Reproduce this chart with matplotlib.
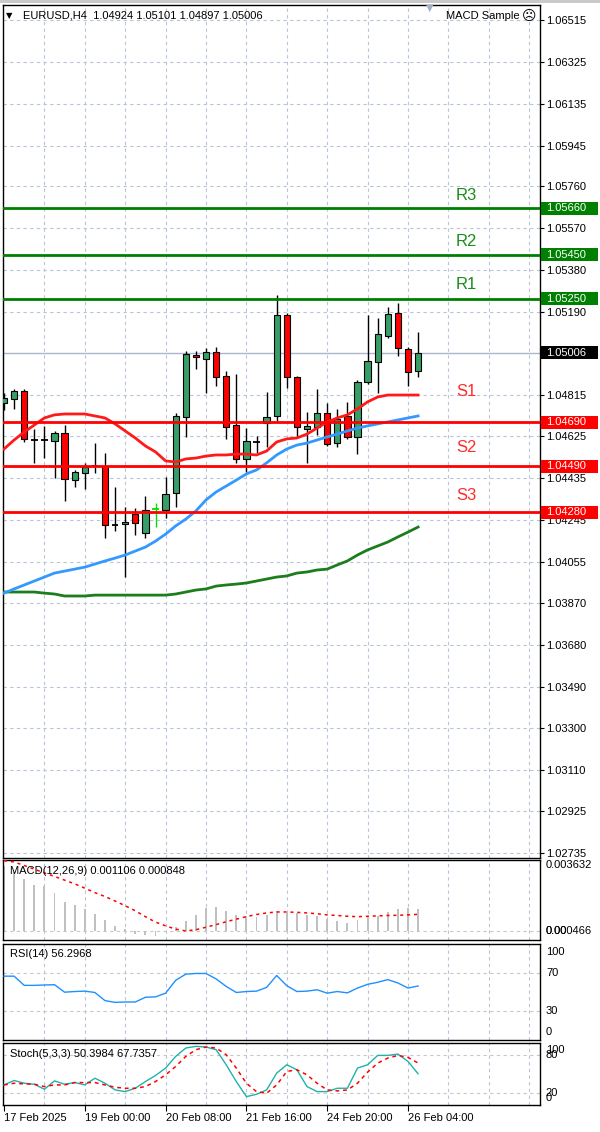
import matplotlib
matplotlib.use("Agg")
import matplotlib.pyplot as plt
from matplotlib.patches import Rectangle
from matplotlib.transforms import blended_transform_factory

plt.rcParams['font.family'] = ['Liberation Sans', 'DejaVu Sans']

# velas EURUSD H4
opens = [1.04777, 1.04795, 1.04831, 1.04609, 1.04608, 1.04604, 1.04641, 1.04428, 1.04460, 1.04491,
         1.04491, 1.04223, 1.04228, 1.04273, 1.04187, 1.04296, 1.04291, 1.04369, 1.04713, 1.04995,
         1.04977, 1.05009, 1.04900, 1.04677, 1.04523, 1.04600, 1.04686, 1.04718, 1.05177, 1.04895,
         1.04659, 1.04668, 1.04731, 1.04595, 1.04718, 1.04623, 1.04872, 1.04963, 1.05081, 1.05186,
         1.05022, 1.04924]
highs = [1.04822, 1.04840, 1.04840, 1.04659, 1.04672, 1.04650, 1.04677, 1.04473, 1.04505, 1.04595,
         1.04550, 1.04396, 1.04305, 1.04300, 1.04355, 1.04323, 1.04441, 1.04731, 1.05013, 1.05013,
         1.05027, 1.05031, 1.04922, 1.04909, 1.04663, 1.04627, 1.04827, 1.05267, 1.05186, 1.04900,
         1.04736, 1.04840, 1.04777, 1.04750, 1.04782, 1.04881, 1.05177, 1.05163, 1.05213, 1.05231,
         1.05031, 1.05101]
lows = [1.04745, 1.04750, 1.04600, 1.04505, 1.04527, 1.04437, 1.04332, 1.04396, 1.04387, 1.04460,
        1.04164, 1.04196, 1.03988, 1.04178, 1.04164, 1.04214, 1.04255, 1.04305, 1.04623, 1.04931,
        1.04822, 1.04854, 1.04613, 1.04505, 1.04464, 1.04550, 1.04577, 1.04695, 1.04845, 1.04618,
        1.04505, 1.04632, 1.04582, 1.04577, 1.04613, 1.04545, 1.04863, 1.04822, 1.05072, 1.04991,
        1.04854, 1.04897]
closes = [1.04800, 1.04831, 1.04613, 1.04609, 1.04609, 1.04641, 1.04432, 1.04464, 1.04487, 1.04487,
          1.04223, 1.04221, 1.04237, 1.04232, 1.04291, 1.04296, 1.04364, 1.04718, 1.05000, 1.04986,
          1.05009, 1.04895, 1.04668, 1.04523, 1.04604, 1.04599, 1.04713, 1.05177, 1.04895, 1.04668,
          1.04672, 1.04731, 1.04591, 1.04704, 1.04623, 1.04872, 1.04968, 1.05090, 1.05181, 1.05027,
          1.04918, 1.05006]

# medias móviles
ma_red = [1.04568, 1.04609, 1.04645, 1.04677, 1.04709, 1.04723, 1.04727, 1.04727, 1.04727, 1.04718,
          1.04709, 1.04682, 1.04650, 1.04618, 1.04582, 1.04555, 1.04514, 1.04509, 1.04523, 1.04527,
          1.04536, 1.04541, 1.04541, 1.04545, 1.04545, 1.04541, 1.04559, 1.04600, 1.04614, 1.04618,
          1.04636, 1.04663, 1.04691, 1.04709, 1.04723, 1.04750, 1.04782, 1.04804, 1.04813, 1.04813,
          1.04813, 1.04813]
ma_blue = [1.03914, 1.03933, 1.03951, 1.03969, 1.03987, 1.04005, 1.04014, 1.04023, 1.04032, 1.04046,
           1.04060, 1.04073, 1.04087, 1.04105, 1.04123, 1.04150, 1.04182, 1.04219, 1.04250, 1.04287,
           1.04337, 1.04373, 1.04400, 1.04427, 1.04455, 1.04473, 1.04505, 1.04541, 1.04568, 1.04586,
           1.04595, 1.04609, 1.04623, 1.04636, 1.04650, 1.04663, 1.04673, 1.04682, 1.04691, 1.04700,
           1.04709, 1.04718]
ma_green = [1.03919, 1.03919, 1.03919, 1.03919, 1.03914, 1.03910, 1.03901, 1.03901, 1.03901, 1.03905,
            1.03905, 1.03905, 1.03905, 1.03905, 1.03905, 1.03905, 1.03905, 1.03910, 1.03919, 1.03928,
            1.03933, 1.03946, 1.03951, 1.03955, 1.03960, 1.03969, 1.03978, 1.03987, 1.03992, 1.04005,
            1.04010, 1.04019, 1.04023, 1.04042, 1.04060, 1.04087, 1.04110, 1.04128, 1.04146, 1.04169,
            1.04191, 1.04214]

# soportes y resistencias
res_names = ["R3", "R2", "R1"]
res_levels = [1.05660, 1.05450, 1.05250]
sup_names = ["S1", "S2", "S3"]
sup_levels = [1.04690, 1.04490, 1.04280]
last_price = 1.05006

price_ticks = [1.06515, 1.06325, 1.06135, 1.05945, 1.05760, 1.05570, 1.05380, 1.05190, 1.04815,
               1.04625, 1.04435, 1.04245, 1.04055, 1.03870, 1.03680, 1.03490, 1.03300, 1.03110,
               1.02925, 1.02735]

# indicadores
macd_hist = [0.00331, 0.00303, 0.00266, 0.00237, 0.00232, 0.00194, 0.00150, 0.00131, 0.00110, 0.00088,
             0.00054, 0.00026, 0.00009, -0.00015, -0.00021, -0.00028, -0.00002, 0.00022, 0.00050, 0.00079,
             0.00116, 0.00122, 0.00103, 0.00084, 0.00075, 0.00069, 0.00082, 0.00103, 0.00094, 0.00092,
             0.00084, 0.00075, 0.00060, 0.00050, 0.00041, 0.00056, 0.00069, 0.00075, 0.00097, 0.00112,
             0.00116, 0.00110]
macd_signal = [0.00360, 0.00353, 0.00335, 0.00316, 0.00297, 0.00279, 0.00260, 0.00241, 0.00219, 0.00196,
               0.00176, 0.00153, 0.00129, 0.00103, 0.00073, 0.00045, 0.00026, 0.00009, 0.00000, 0.00006,
               0.00019, 0.00032, 0.00047, 0.00060, 0.00073, 0.00084, 0.00092, 0.00097, 0.00097, 0.00095,
               0.00092, 0.00088, 0.00082, 0.00079, 0.00075, 0.00073, 0.00075, 0.00077, 0.00079, 0.00080,
               0.00082, 0.00085]
rsi = [66.5, 66.5, 56.9, 56.9, 57.3, 57.6, 49.8, 50.5, 50.9, 49.5,
       41.0, 39.2, 39.6, 39.6, 44.5, 44.9, 48.8, 62.2, 68.6, 69.3,
       69.3, 63.6, 55.8, 49.5, 50.5, 50.9, 54.8, 67.2, 56.5, 50.5,
       50.9, 52.3, 48.8, 50.5, 49.1, 54.1, 58.0, 60.1, 62.9, 59.4,
       54.1, 56.3]
stoch_k = [32.4, 39.5, 35.1, 33.5, 25.4, 38.9, 33.5, 36.2, 32.4, 43.2,
           35.1, 24.3, 21.6, 27.0, 37.8, 47.6, 59.5, 78.4, 91.9, 94.6,
           93.5, 89.2, 64.9, 37.8, 13.5, 17.3, 24.3, 51.4, 64.9, 56.8,
           29.7, 21.6, 21.6, 27.0, 27.0, 59.5, 64.9, 80.0, 80.0, 82.2,
           70.3, 50.4]
stoch_d = [32.4, 35.1, 34.1, 33.5, 29.7, 32.4, 32.4, 36.2, 36.2, 36.2,
           32.4, 28.6, 27.0, 27.0, 29.7, 37.8, 48.6, 62.2, 78.4, 89.2,
           93.5, 91.9, 81.1, 59.5, 35.1, 21.6, 18.9, 32.4, 54.1, 56.8,
           48.6, 35.1, 24.3, 22.7, 24.3, 35.1, 53.0, 67.6, 75.7, 80.0,
           76.8, 67.7]

date_ticks = [0, 8, 16, 24, 32, 40]
date_labels = ["17 Feb 2025", "19 Feb 00:00", "20 Feb 08:00", "21 Feb 16:00", "24 Feb 20:00", "26 Feb 04:00"]

W, H = 600, 1132
fig = plt.figure(figsize=(W / 100, H / 100), dpi=100)
fig.patch.set_facecolor("white")


def px_axes(x0, y0, x1, y1):
    return fig.add_axes([x0 / W, 1 - y1 / H, (x1 - x0) / W, (y1 - y0) / H])


ax = px_axes(3, 5, 540, 858)
ax_macd = px_axes(3, 860, 540, 940)
ax_rsi = px_axes(3, 944, 540, 1040)
ax_sto = px_axes(3, 1043, 540, 1105)

xs = list(range(len(closes)))
xlim = (-0.1, 53.07)
grid_col = "#b7c4da"
for a in (ax, ax_macd, ax_rsi, ax_sto):
    a.set_xlim(*xlim)
    for s in a.spines.values():
        s.set_color("black")
        s.set_linewidth(1)
    for gx in range(4, 54, 4):
        a.axvline(gx, color=grid_col, lw=0.8, ls=(0, (3, 3)), zorder=0)
    a.tick_params(axis="x", bottom=False, labelbottom=False)
    a.tick_params(axis="y", left=False, labelleft=False, right=False, labelright=False)

# ---- panel principal ----
ymin, ymax = 1.02712, 1.06583
ax.set_ylim(ymin, ymax)
px_per_price = 853 / (ymax - ymin)
ax.yaxis.tick_right()
ax.set_yticks(price_ticks)
ax.set_yticklabels([f"{t:.5f}" for t in price_ticks])
ax.tick_params(axis="y", right=True, labelright=True, length=3, width=0.8, pad=1.5, labelsize=8)
for t in price_ticks:
    ax.axhline(t, color=grid_col, lw=0.8, ls=(0, (3, 3)), zorder=0)
ax.axhline(last_price, color="#aab6cc", lw=1, zorder=1)

# velas
up_col, dn_col = "#379e68", "#ff0000"
for i in xs:
    o, h, l, c = opens[i], highs[i], lows[i], closes[i]
    if abs(c - o) < 0.00005:
        col = "#00e000" if i == 15 else "black"
        ax.vlines(i, l, h, color=col, lw=1, zorder=3)
        ax.hlines(o, i - 0.32, i + 0.32, color=col, lw=1.3, zorder=3)
        continue
    ax.vlines(i, l, h, color="black", lw=1, zorder=2)
    ax.bar(i, abs(c - o), bottom=min(o, c), width=0.62,
           color=up_col if c > o else dn_col, edgecolor="black", lw=0.8, zorder=3)

ax.plot(xs, ma_green, color="#1b7d1b", lw=2, zorder=4)
ax.plot(xs, ma_blue, color="#3399ff", lw=2, zorder=4)
ax.plot(xs, ma_red, color="#ff1a1a", lw=2, zorder=4)

trans = blended_transform_factory(ax.transAxes, ax.transData)
box_h = 13 / px_per_price
res_off = [13, 13, 14]
sup_off = [31, 19, 17]
for names, levels, offs, col, tcol in ((res_names, res_levels, res_off, "#008000", "#1a8c1a"),
                                      (sup_names, sup_levels, sup_off, "#ff0000", "#ff2b2b")):
    for name, lvl, off in zip(names, levels, offs):
        ax.axhline(lvl, color=col, lw=2, zorder=5)
        ax.annotate(name, (45.8, lvl), xytext=(0, off * 0.72), textcoords="offset points",
                    ha="center", va="center", fontsize=12, color=tcol, zorder=6)
        ax.add_patch(Rectangle((1.002, lvl - box_h / 2), 0.106, box_h, transform=trans,
                               facecolor=col, edgecolor="none", clip_on=False, zorder=6))
        ax.text(1.0112, lvl, f"{lvl:.5f}", transform=trans, color="white", fontsize=8,
                va="center", ha="left", clip_on=False, zorder=7)

ax.add_patch(Rectangle((1.002, last_price - box_h / 2), 0.106, box_h, transform=trans,
                       facecolor="black", edgecolor="none", clip_on=False, zorder=6))
ax.text(1.0112, last_price, f"{last_price:.5f}", transform=trans, color="white", fontsize=8,
        va="center", ha="left", clip_on=False, zorder=7)

ax.text(0.006, 0.988, "▼", transform=ax.transAxes, fontsize=6, va="center", ha="left",
        family=["DejaVu Sans"])
ax.text(0.038, 0.988, f"EURUSD,H4  {opens[-1]:.5f} {highs[-1]:.5f} {lows[-1]:.5f} {closes[-1]:.5f}",
        transform=ax.transAxes, fontsize=8, va="center", ha="left")
ax.text(0.9626, 0.987, "MACD Sample", transform=ax.transAxes, fontsize=8, va="center", ha="right")
ax.text(0.9935, 0.987, "☹", transform=ax.transAxes, fontsize=10, va="center", ha="right",
        family=["DejaVu Sans"])
fig.text(430 / W, 1 - 8 / H, "▼", fontsize=7, color="#9fb0c8", ha="center", va="center",
         family=["DejaVu Sans"])

# ---- MACD ----
ax_macd.set_ylim(-0.000466, 0.003632)
ax_macd.axhline(0, color="#c8c8c8", lw=0.8, ls=(0, (3, 3)), zorder=0)
ax_macd.bar(xs, macd_hist, width=0.18, color="#c0c0c0", zorder=2)
ax_macd.plot(xs, macd_signal, color="#ff0000", lw=1.1, ls=(0, (2, 2.5)), zorder=3)
ax_macd.text(0.013, 0.86, "MACD(12,26,9) 0.001106 0.000848",
             transform=ax_macd.transAxes, fontsize=8, va="center", ha="left")
tm = blended_transform_factory(ax_macd.transAxes, ax_macd.transData)
ax_macd.text(1.011, 0.003632, "0.003632", transform=tm, fontsize=8, va="top", ha="left", clip_on=False)
ax_macd.text(1.011, 0.0, "0.00", transform=tm, fontsize=8, va="center", ha="left", clip_on=False)
ax_macd.text(1.011, 0.0, "0.000466", transform=tm, fontsize=8, va="center", ha="left", clip_on=False)

# ---- RSI ----
ax_rsi.set_ylim(0, 100)
for lv in (70, 30):
    ax_rsi.axhline(lv, color="#c8c8c8", lw=0.8, ls=(0, (3, 3)), zorder=0)
ax_rsi.plot(xs, rsi, color="#1e90ff", lw=1, zorder=3)
ax_rsi.text(0.013, 0.9, "RSI(14) 56.2968", transform=ax_rsi.transAxes, fontsize=8, va="center", ha="left")
tr = blended_transform_factory(ax_rsi.transAxes, ax_rsi.transData)
ax_rsi.text(1.011, 97, "100", transform=tr, fontsize=8, va="top", ha="left", clip_on=False)
ax_rsi.text(1.011, 70, "70", transform=tr, fontsize=8, va="center", ha="left", clip_on=False)
ax_rsi.text(1.011, 30, "30", transform=tr, fontsize=8, va="center", ha="left", clip_on=False)
ax_rsi.text(1.011, 3, "0", transform=tr, fontsize=8, va="bottom", ha="left", clip_on=False)

# ---- Estocástico ----
ax_sto.set_ylim(0, 100)
for lv in (80, 20):
    ax_sto.axhline(lv, color="#c8c8c8", lw=0.8, ls=(0, (3, 3)), zorder=0)
ax_sto.plot(xs, stoch_k, color="#20b2aa", lw=1, zorder=3)
ax_sto.plot(xs, stoch_d, color="#ff0000", lw=1.1, ls=(0, (2.5, 2.5)), zorder=3)
ax_sto.text(0.013, 0.82, "Stoch(5,3,3) 50.3984 67.7357", transform=ax_sto.transAxes,
            fontsize=8, va="center", ha="left")
ts = blended_transform_factory(ax_sto.transAxes, ax_sto.transData)
ax_sto.text(1.011, 97, "100", transform=ts, fontsize=8, va="top", ha="left", clip_on=False)
ax_sto.text(1.011, 80, "80", transform=ts, fontsize=8, va="center", ha="left", clip_on=False)
ax_sto.text(1.011, 20, "20", transform=ts, fontsize=8, va="center", ha="left", clip_on=False)
ax_sto.text(1.011, 3, "0", transform=ts, fontsize=8, va="bottom", ha="left", clip_on=False)

ax_sto.set_xticks(date_ticks)
ax_sto.set_xticklabels(date_labels, ha="left")
ax_sto.tick_params(axis="x", bottom=True, labelbottom=True, length=4, width=0.8, pad=2, labelsize=8)

# marco superior gris
fig.patches.append(Rectangle((0, 1 - 3 / H), 1, 3 / H, transform=fig.transFigure,
                             facecolor="#c9c9c9", edgecolor="none"))

fig.savefig("out.png", dpi=100)
